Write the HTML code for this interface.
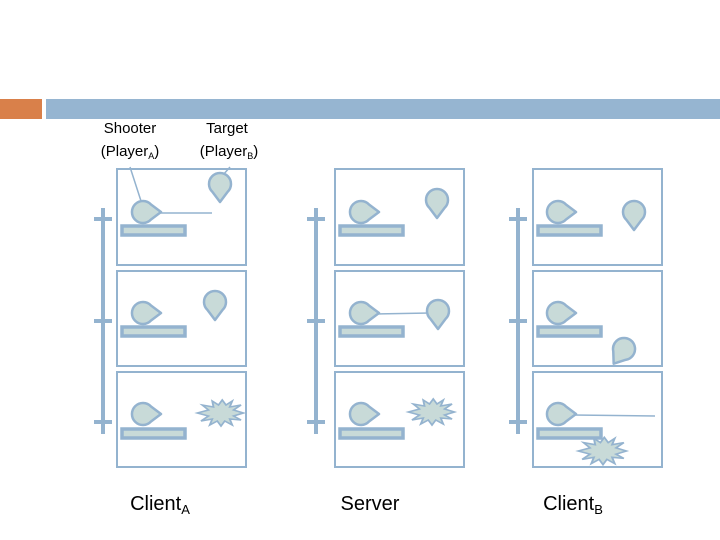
<!DOCTYPE html>
<html><head><meta charset="utf-8"><style>
html,body{margin:0;padding:0;background:#fff;width:720px;height:540px;overflow:hidden}
text{font-family:"Liberation Sans",sans-serif;fill:#000}
</style></head><body>
<svg width="720" height="540" viewBox="0 0 720 540" xmlns="http://www.w3.org/2000/svg">
<defs>
<path id="drop" d="M18 0 L8 -7.5 A11 11 0 1 0 8 7.5 Z" fill="#c8dad8" stroke="#94b3cf" stroke-width="2.5" stroke-linejoin="round"/>
<polygon id="boom" points="18,0 10,3 16,7 7,6 9,12 3,8 0,13 -3,8 -9,12 -7,6 -16,8 -10,3 -19,0 -10,-3 -15,-8 -6,-6 -7,-12 -2,-8 1,-13 4,-8 9,-12 7,-6 16,-8 10,-3" fill="#c8dad8" stroke="#94b3cf" stroke-width="1.5"/>
<g id="bar"><rect x="0" y="0" width="63" height="9" fill="#c8dad8" stroke="#94b3cf" stroke-width="3.5"/></g>
</defs>
<rect x="0" y="99" width="42" height="20" fill="#d9804a"/>
<rect x="46" y="99" width="674" height="20" fill="#96b5d1"/>
<text x="130" y="133" font-size="15" text-anchor="middle">Shooter</text>
<text x="130" y="156" font-size="15" text-anchor="middle">(Player<tspan font-size="9" dy="3">A</tspan><tspan dy="-3">)</tspan></text>
<text x="227" y="133" font-size="15" text-anchor="middle">Target</text>
<text x="229" y="156" font-size="15" text-anchor="middle">(Player<tspan font-size="9" dy="3">B</tspan><tspan dy="-3">)</tspan></text>
<g fill="none" stroke="#94b3cf" stroke-width="2">
<rect x="117" y="169" width="129" height="96"/><rect x="117" y="271" width="129" height="95"/><rect x="117" y="372" width="129" height="95"/>
<rect x="335" y="169" width="129" height="96"/><rect x="335" y="271" width="129" height="95"/><rect x="335" y="372" width="129" height="95"/>
<rect x="533" y="169" width="129" height="96"/><rect x="533" y="271" width="129" height="95"/><rect x="533" y="372" width="129" height="95"/>
</g>
<g stroke="#94b3cf" stroke-width="4">
<line x1="103" y1="208" x2="103" y2="434"/><line x1="94" y1="219" x2="112" y2="219"/><line x1="94" y1="321" x2="112" y2="321"/><line x1="94" y1="422" x2="112" y2="422"/>
<line x1="316" y1="208" x2="316" y2="434"/><line x1="307" y1="219" x2="325" y2="219"/><line x1="307" y1="321" x2="325" y2="321"/><line x1="307" y1="422" x2="325" y2="422"/>
<line x1="518" y1="208" x2="518" y2="434"/><line x1="509" y1="219" x2="527" y2="219"/><line x1="509" y1="321" x2="527" y2="321"/><line x1="509" y1="422" x2="527" y2="422"/>
</g>
<g stroke="#94b3cf" stroke-width="1.5" fill="none">
<line x1="130" y1="167" x2="141" y2="201"/><line x1="230" y1="167" x2="223" y2="175"/>
<line x1="160" y1="213" x2="212" y2="213"/>
<line x1="376" y1="314" x2="430" y2="313"/>
<line x1="573" y1="415" x2="655" y2="416"/>
</g>
<use href="#bar" x="122" y="226"/><use href="#bar" x="122" y="327"/><use href="#bar" x="122" y="429"/>
<use href="#bar" x="340" y="226"/><use href="#bar" x="340" y="327"/><use href="#bar" x="340" y="429"/>
<use href="#bar" x="538" y="226"/><use href="#bar" x="538" y="327"/><use href="#bar" x="538" y="429"/>
<use href="#drop" transform="translate(143,212)"/><use href="#drop" transform="translate(143,313)"/><use href="#drop" transform="translate(143,414)"/>
<use href="#drop" transform="translate(361,212)"/><use href="#drop" transform="translate(361,313)"/><use href="#drop" transform="translate(361,414)"/>
<use href="#drop" transform="translate(558,212)"/><use href="#drop" transform="translate(558,313)"/><use href="#drop" transform="translate(558,414)"/>
<use href="#drop" transform="translate(220,184) rotate(90)"/>
<use href="#drop" transform="translate(215,302) rotate(90)"/>
<use href="#drop" transform="translate(437,200) rotate(90)"/>
<use href="#drop" transform="translate(438,311) rotate(90)"/>
<use href="#drop" transform="translate(634,212) rotate(90)"/>
<use href="#drop" transform="translate(624,349) rotate(125)"/>
<use href="#boom" transform="translate(221,413) scale(1.25,1)"/>
<use href="#boom" transform="translate(432,412) scale(1.25,1)"/>
<use href="#boom" transform="translate(603,451) scale(1.3,1.05)"/>
<text x="160" y="510" font-size="20" text-anchor="middle">Client<tspan font-size="13" dy="4">A</tspan></text>
<text x="370" y="510" font-size="20" text-anchor="middle">Server</text>
<text x="573" y="510" font-size="20" text-anchor="middle">Client<tspan font-size="13" dy="4">B</tspan></text>
</svg>
</body></html>
